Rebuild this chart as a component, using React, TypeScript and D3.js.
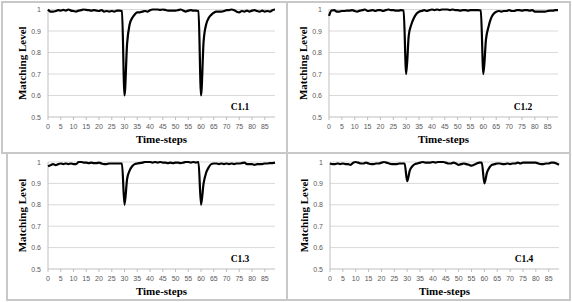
import React from "react";
import * as d3 from "d3";

// matching level per time-step (0..89), one array per case
const c11 = [1.0, 0.99, 0.99, 0.993, 0.997, 0.995, 0.998, 0.995, 1.0, 0.995,
  0.993, 0.99, 0.995, 0.997, 1.0, 0.998, 0.997, 0.995, 0.997, 0.995,
  0.993, 0.997, 0.99, 0.993, 0.99, 0.993, 0.99, 0.995, 0.995, 0.993,
  0.6, 0.84, 0.93, 0.96, 0.977, 0.987, 0.987, 0.99, 0.993, 0.99,
  0.997, 1.0, 1.0, 1.0, 0.998, 1.0, 0.998, 0.995, 0.995, 0.995,
  0.995, 0.997, 1.0, 0.995, 0.99, 0.995, 0.997, 0.995, 0.995, 0.993,
  0.6, 0.85, 0.93, 0.96, 0.975, 0.985, 0.99, 0.99, 0.99, 0.993,
  0.997, 0.997, 1.0, 0.997, 0.99, 0.987, 0.993, 0.99, 0.995, 0.99,
  0.995, 0.997, 0.993, 0.99, 0.995, 0.99, 0.993, 0.99, 0.997, 1.0];

const c12 = [0.97, 0.995, 0.997, 0.99, 0.99, 0.993, 0.993, 0.995, 0.995, 0.997,
  0.993, 0.99, 0.995, 0.997, 1.0, 0.993, 0.995, 0.997, 0.993, 0.997,
  0.997, 0.993, 0.997, 1.0, 0.997, 0.997, 0.995, 0.995, 0.997, 0.995,
  0.7, 0.88, 0.93, 0.96, 0.98, 0.99, 0.993, 0.997, 0.993, 0.997,
  1.0, 0.997, 1.0, 0.997, 1.0, 1.0, 1.0, 0.997, 1.0, 0.997,
  0.997, 0.995, 0.997, 0.997, 0.995, 0.997, 0.997, 0.997, 0.997, 0.995,
  0.7, 0.86, 0.92, 0.96, 0.98, 0.99, 0.993, 0.99, 0.993, 0.993,
  0.997, 0.993, 0.993, 0.997, 0.997, 0.995, 0.997, 0.997, 0.995, 0.997,
  0.99, 0.99, 0.99, 0.99, 0.99, 0.993, 0.995, 0.995, 0.997, 0.997];

const c13 = [0.98, 0.985, 0.99, 0.985, 0.99, 0.993, 0.99, 0.993, 0.99, 0.993,
  0.99, 0.99, 1.0, 1.0, 0.997, 0.997, 0.995, 0.997, 0.995, 0.995,
  0.997, 0.993, 0.99, 0.99, 0.993, 0.993, 0.993, 0.993, 0.993, 0.993,
  0.8, 0.92, 0.96, 0.98, 0.99, 0.993, 0.995, 0.997, 1.0, 1.0,
  1.0, 0.997, 1.0, 0.997, 1.0, 0.997, 0.997, 0.995, 0.997, 0.995,
  0.997, 0.997, 0.995, 0.997, 1.0, 1.0, 0.997, 1.0, 0.997, 1.0,
  0.8, 0.9, 0.95, 0.975, 0.99, 0.993, 0.993, 0.99, 0.993, 0.99,
  0.993, 0.99, 0.993, 0.99, 0.993, 0.993, 0.995, 0.997, 0.99, 0.99,
  0.99, 0.987, 0.99, 0.99, 0.99, 0.993, 0.993, 0.995, 0.995, 0.997];

const c14 = [0.993, 0.99, 0.99, 0.993, 0.99, 0.993, 0.99, 0.99, 0.987, 0.997,
  1.0, 0.997, 0.993, 0.993, 0.997, 0.993, 0.99, 0.99, 0.993, 0.993,
  0.997, 1.0, 0.997, 0.993, 0.99, 0.99, 0.99, 0.993, 0.993, 0.993,
  0.91, 0.96, 0.98, 0.99, 0.993, 0.997, 1.0, 0.997, 0.997, 0.997,
  1.0, 0.997, 1.0, 1.0, 1.0, 0.997, 0.993, 0.993, 0.997, 0.993,
  0.987, 0.99, 0.993, 0.99, 0.987, 0.983, 0.987, 0.993, 0.997, 0.997,
  0.9, 0.95, 0.975, 0.987, 0.99, 0.993, 0.993, 0.99, 0.99, 0.993,
  0.99, 0.993, 0.993, 0.997, 0.993, 0.997, 0.997, 0.997, 0.997, 0.997,
  0.997, 0.993, 0.99, 0.99, 0.993, 0.993, 0.997, 0.997, 0.993, 0.987];

const yTicks = [0.5, 0.6, 0.7, 0.8, 0.9, 1];
const xTicks = d3.range(0, 90, 5);
const caseNames = ["C1.1", "C1.2", "C1.3", "C1.4"];
const series = [c11, c12, c13, c14];

// panel boxes and plot areas
const panels = [
  { box: [2, 2, 287, 153], left: 48, right: 275, top: 9.5, bottom: 117 },
  { box: [287, 2, 570, 153], left: 329, right: 558, top: 9.5, bottom: 117 },
  { box: [7, 153, 287, 300], left: 48, right: 275, top: 162, bottom: 269 },
  { box: [287, 153, 570, 300], left: 330, right: 559, top: 162, bottom: 269 },
];

const Panel = ({ p, data, name }) => {
  const x = d3.scaleLinear().domain([0, 89]).range([p.left, p.right]);
  const y = d3.scaleLinear().domain([0.5, 1]).range([p.bottom, p.top]);
  const line = d3.line<number>().x((d, i) => x(i)).y(d => y(d)).curve(d3.curveMonotoneX);
  const midY = (p.top + p.bottom) / 2;
  return (
    <g>
      <rect x={p.box[0]} y={p.box[1]} width={p.box[2] - p.box[0]} height={p.box[3] - p.box[1]}
        fill="white" stroke="#c8c8c8" strokeWidth={2} />
      {yTicks.map(t => (
        <g key={t}>
          {t > 0.5 && <line x1={p.left} x2={p.right} y1={y(t)} y2={y(t)} stroke="#d9d9d9" strokeWidth={1} />}
          <text x={p.left - 7} y={y(t) + 2.5} textAnchor="end" fontSize={7} fill="#595959"
            fontFamily="Liberation Sans, Arial, sans-serif">{t}</text>
        </g>
      ))}
      <line x1={p.left} x2={p.left} y1={p.top} y2={p.bottom} stroke="#bfbfbf" strokeWidth={1} />
      <line x1={p.left} x2={p.right} y1={p.bottom} y2={p.bottom} stroke="#bfbfbf" strokeWidth={1} />
      {xTicks.map(t => (
        <g key={t}>
          <line x1={x(t)} x2={x(t)} y1={p.bottom} y2={p.bottom + 3} stroke="#bfbfbf" strokeWidth={1} />
          <text x={x(t)} y={p.bottom + 12} textAnchor="middle" fontSize={7} fill="#595959"
            fontFamily="Liberation Sans, Arial, sans-serif">{t}</text>
        </g>
      ))}
      <path d={line(data) || ""} fill="none" stroke="black" strokeWidth={2.2} strokeLinejoin="round" />
      <text x={(p.left + p.right) / 2} y={p.bottom + 26} textAnchor="middle" fontSize={11}
        fontWeight="bold" fontFamily="Liberation Serif, Times New Roman, serif">Time-steps</text>
      <text transform={`translate(${p.left - 22},${midY}) rotate(-90)`} textAnchor="middle" fontSize={11}
        fontWeight="bold" fontFamily="Liberation Serif, Times New Roman, serif">Matching Level</text>
      <text x={p.right - 35} y={p.bottom - 7} textAnchor="middle" fontSize={9.5}
        fontWeight="bold" fontFamily="Liberation Serif, Times New Roman, serif">{name}</text>
    </g>
  );
};

export default function App() {
  return (
    <svg width={572} height={302} style={{ position: "absolute", left: 0, top: 0, background: "white" }}>
      {panels.map((p, i) => (
        <Panel key={i} p={p} data={series[i]} name={caseNames[i]} />
      ))}
    </svg>
  );
}
